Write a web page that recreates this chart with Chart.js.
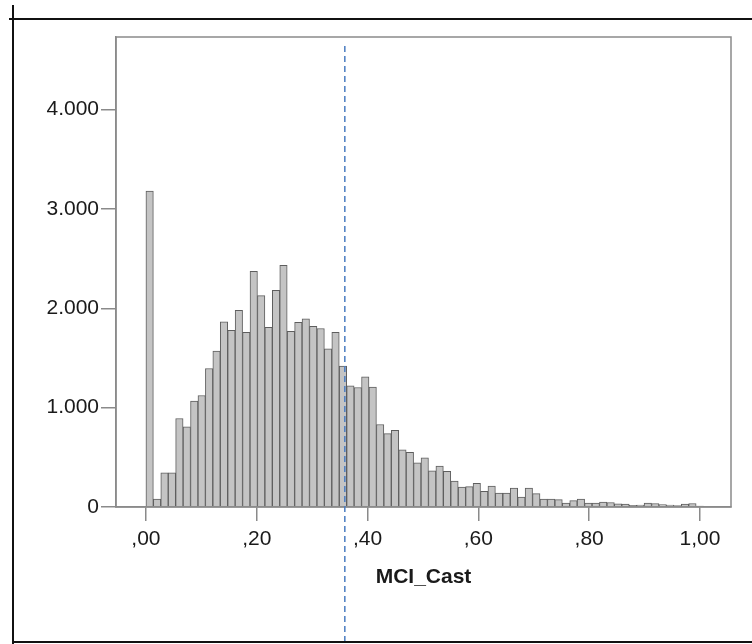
<!DOCTYPE html>
<html>
<head>
<meta charset="utf-8">
<script src="https://cdn.jsdelivr.net/npm/chart.js@4/dist/chart.umd.min.js"></script>
<style>
  html, body { margin: 0; padding: 0; background: #fff; }
  #wrap { width: 752px; height: 644px; }
</style>
</head>
<body>
<div id="wrap"><canvas id="histChart" width="752" height="644"></canvas></div>
<script>
// histogram of MCI_Cast, bins of equal width starting at 0
const binWidth = 0.01342;
const counts = [
  3180, 80, 345, 345, 891, 807, 1065, 1122, 1394, 1568,
  1863, 1779, 1980, 1759, 2372, 2127, 1809, 2181, 2432, 1769,
  1859, 1893, 1819, 1796, 1591, 1759, 1417, 1220, 1203, 1310,
  1206, 830, 738, 772, 575, 550, 445, 494, 365, 412,
  358, 260, 201, 205, 238, 158, 210, 141, 141, 191,
  100, 191, 134, 80, 80, 74, 40, 64, 80, 40,
  40, 50, 45, 33, 30, 17, 20, 40, 35, 25,
  20, 15, 30, 35, 10
];
const xTicks = [0, 0.2, 0.4, 0.6, 0.8, 1.0];
const yTicks = [0, 1000, 2000, 3000, 4000];
const meanLine = 0.359;

const axisGray = '#8a8a8a';
const fontFam = 'Liberation Sans, Arial, sans-serif';

function fmtX(v) {
    // ,00  ,20 ... 1,00
    const s = v.toFixed(2).replace('.', ',');
    return s.startsWith('0') ? s.slice(1) : s;
}
function fmtY(v) {
    return v === 0 ? '0' : v.toLocaleString('de-DE');
}

const framePlugin = {
    id: 'frame',
    afterDatasetsDraw(chart) {
        const { ctx, chartArea: a } = chart;
        ctx.save();
        ctx.strokeStyle = axisGray;
        ctx.lineWidth = 1.5;
        ctx.strokeRect(a.left, a.top, a.right - a.left, a.bottom - a.top);
        ctx.restore();
    },
    afterDraw(chart) {
        const ctx = chart.ctx;
        const x = chart.scales.x.getPixelForValue(meanLine);
        ctx.save();
        // dashed reference line
        ctx.strokeStyle = '#4a7cc0';
        ctx.lineWidth = 1.5;
        ctx.setLineDash([6, 4]);
        ctx.beginPath();
        ctx.moveTo(x, 46);
        ctx.lineTo(x, 644);
        ctx.stroke();
        // outer cell borders
        ctx.setLineDash([]);
        ctx.strokeStyle = '#111';
        ctx.lineWidth = 2;
        ctx.beginPath();
        ctx.moveTo(9, 19);
        ctx.lineTo(752, 19);
        ctx.moveTo(13, 5);
        ctx.lineTo(13, 644);
        ctx.moveTo(13, 642);
        ctx.lineTo(752, 642);
        ctx.stroke();
        ctx.restore();
    }
};

new Chart(document.getElementById('histChart'), {
    type: 'bar',
    data: {
        datasets: [{
            data: counts.map((c, i) => ({ x: (i + 0.5) * binWidth, y: c })),
            backgroundColor: '#c4c4c4',
            borderColor: '#5e5e5e',
            borderWidth: 1,
            barPercentage: 1,
            categoryPercentage: 1
        }]
    },
    options: {
        responsive: false,
        animation: false,
        layout: { padding: { top: 37, right: 21, left: 0, bottom: 0 } },
        plugins: { legend: { display: false }, tooltip: { enabled: false } },
        scales: {
            x: {
                type: 'linear',
                min: -0.054,
                max: 1.056,
                offset: false,
                afterFit: s => { s.height = 137; },
                afterBuildTicks: s => { s.ticks = xTicks.map(v => ({ value: v })); },
                grid: { offset: false, drawOnChartArea: false, color: axisGray, tickLength: 14, lineWidth: 1.5 },
                border: { color: axisGray, width: 1.5 },
                ticks: {
                    callback: v => fmtX(v),
                    color: '#1a1a1a',
                    padding: 6,
                    maxRotation: 0,
                    autoSkip: false,
                    font: { family: fontFam, size: 21 }
                },
                title: {
                    display: true,
                    text: 'MCI_Cast',
                    color: '#1a1a1a',
                    padding: { top: 0, bottom: 54 },
                    font: { family: fontFam, size: 21, weight: 'bold' }
                }
            },
            y: {
                min: 0,
                max: 4730,
                afterFit: s => { s.width = 116; },
                afterBuildTicks: s => { s.ticks = yTicks.map(v => ({ value: v })); },
                grid: { drawOnChartArea: false, color: axisGray, tickLength: 15, lineWidth: 1.5 },
                border: { color: axisGray, width: 1.5 },
                ticks: {
                    callback: v => fmtY(v),
                    color: '#1a1a1a',
                    padding: 2,
                    font: { family: fontFam, size: 21 }
                }
            }
        }
    },
    plugins: [framePlugin]
});
</script>
</body>
</html>
